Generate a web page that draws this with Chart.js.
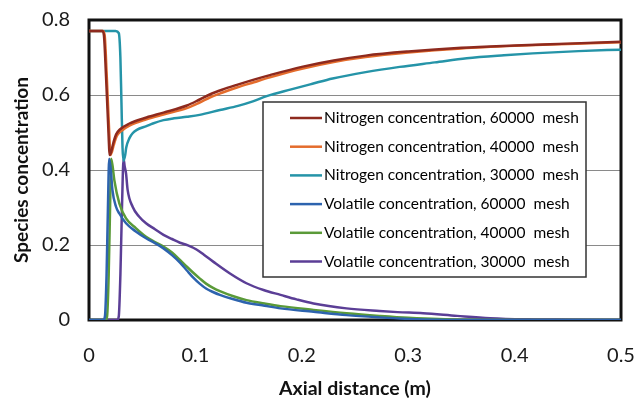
<!DOCTYPE html>
<html>
<head>
<meta charset="utf-8">
<script src="https://cdn.jsdelivr.net/npm/chart.js@4.4.1/dist/chart.umd.min.js"></script>
<style>
  body { margin: 0; background: #fff; }
</style>
</head>
<body>
<canvas id="grafico" width="635" height="405"></canvas>
<script>
// Ejes
const xTicks = [0, 0.1, 0.2, 0.3, 0.4, 0.5];
const yTicks = [0, 0.2, 0.4, 0.6, 0.8];

// Nitrogen concentration, 60000 mesh
const n60X = [0, 0.0125, 0.0140, 0.0160, 0.0180, 0.0195, 0.0210, 0.0225, 0.0255, 0.0290, 0.038, 0.054, 0.070, 0.092, 0.104, 0.114, 0.125, 0.139, 0.155, 0.170, 0.200, 0.230, 0.260, 0.300, 0.350, 0.400, 0.450, 0.500];
const n60Y = [0.771, 0.771, 0.760, 0.650, 0.520, 0.440, 0.450, 0.468, 0.495, 0.508, 0.524, 0.540, 0.553, 0.572, 0.588, 0.602, 0.614, 0.627, 0.641, 0.653, 0.675, 0.692, 0.705, 0.716, 0.726, 0.732, 0.737, 0.742];

// Nitrogen concentration, 40000 mesh
const n40X = [0, 0.0130, 0.0147, 0.0167, 0.0187, 0.0202, 0.0217, 0.0232, 0.026, 0.030, 0.038, 0.054, 0.070, 0.092, 0.104, 0.114, 0.125, 0.139, 0.155, 0.170, 0.200, 0.230, 0.260, 0.300, 0.350, 0.400, 0.450, 0.500];
const n40Y = [0.771, 0.771, 0.760, 0.650, 0.520, 0.440, 0.450, 0.466, 0.490, 0.503, 0.518, 0.535, 0.548, 0.565, 0.580, 0.594, 0.606, 0.620, 0.634, 0.647, 0.670, 0.688, 0.701, 0.713, 0.724, 0.731, 0.736, 0.741];

// Nitrogen concentration, 30000 mesh
const n30X = [0, 0.0250, 0.0280, 0.0295, 0.0305, 0.0315, 0.0325, 0.0340, 0.0350, 0.038, 0.041, 0.045, 0.054, 0.060, 0.070, 0.080, 0.092, 0.104, 0.123, 0.140, 0.154, 0.167, 0.190, 0.210, 0.229, 0.260, 0.292, 0.325, 0.355, 0.390, 0.417, 0.460, 0.500];
const n30Y = [0.771, 0.771, 0.765, 0.700, 0.580, 0.460, 0.425, 0.440, 0.460, 0.485, 0.498, 0.507, 0.517, 0.524, 0.533, 0.538, 0.542, 0.547, 0.560, 0.571, 0.583, 0.597, 0.615, 0.630, 0.644, 0.661, 0.675, 0.687, 0.698, 0.706, 0.711, 0.717, 0.721];

// Volatile concentration, 60000 mesh
const v60X = [0, 0.0135, 0.0150, 0.0165, 0.0178, 0.0190, 0.0205, 0.022, 0.0254, 0.0285, 0.0348, 0.044, 0.0536, 0.062, 0.070, 0.078, 0.0855, 0.092, 0.098, 0.104, 0.110, 0.117, 0.123, 0.135, 0.148, 0.165, 0.180, 0.211, 0.242, 0.273, 0.300, 0.350, 0.400, 0.500];
const v60Y = [0, 0, 0.010, 0.120, 0.300, 0.430, 0.400, 0.347, 0.302, 0.284, 0.258, 0.236, 0.218, 0.205, 0.191, 0.173, 0.153, 0.132, 0.113, 0.097, 0.084, 0.074, 0.067, 0.056, 0.046, 0.038, 0.031, 0.022, 0.013, 0.007, 0.003, 0, 0, 0];

// Volatile concentration, 40000 mesh
const v40X = [0, 0.0155, 0.0170, 0.0185, 0.0198, 0.0208, 0.0222, 0.0238, 0.0285, 0.0348, 0.044, 0.0536, 0.062, 0.070, 0.078, 0.0855, 0.092, 0.098, 0.104, 0.110, 0.117, 0.123, 0.135, 0.148, 0.165, 0.180, 0.211, 0.242, 0.273, 0.300, 0.350, 0.500];
const v40Y = [0, 0, 0.010, 0.120, 0.300, 0.430, 0.410, 0.373, 0.311, 0.271, 0.245, 0.222, 0.208, 0.196, 0.180, 0.160, 0.142, 0.126, 0.111, 0.097, 0.085, 0.077, 0.064, 0.053, 0.044, 0.037, 0.027, 0.018, 0.011, 0.006, 0.001, 0];

// Volatile concentration, 30000 mesh
const v30X = [0, 0.0265, 0.0280, 0.0295, 0.0310, 0.0325, 0.0335, 0.0348, 0.0363, 0.041, 0.047, 0.0536, 0.062, 0.070, 0.078, 0.0855, 0.093, 0.101, 0.108, 0.117, 0.1325, 0.148, 0.164, 0.180, 0.195, 0.211, 0.242, 0.273, 0.290, 0.314, 0.346, 0.377, 0.410, 0.450, 0.500];
const v30Y = [0, 0, 0.010, 0.120, 0.300, 0.430, 0.410, 0.391, 0.347, 0.302, 0.276, 0.258, 0.242, 0.227, 0.216, 0.206, 0.199, 0.188, 0.174, 0.155, 0.124, 0.098, 0.080, 0.067, 0.055, 0.044, 0.031, 0.024, 0.021, 0.018, 0.011, 0.005, 0.002, 0.001, 0];

const series = [
    { label: 'Nitrogen concentration, 60000  mesh', xs: n60X, ys: n60Y, color: '#8E2A1E' },
    { label: 'Nitrogen concentration, 40000  mesh', xs: n40X, ys: n40Y, color: '#E46C2C' },
    { label: 'Nitrogen concentration, 30000  mesh', xs: n30X, ys: n30Y, color: '#2594A8' },
    { label: 'Volatile concentration, 60000  mesh', xs: v60X, ys: v60Y, color: '#2D63AE' },
    { label: 'Volatile concentration, 40000  mesh', xs: v40X, ys: v40Y, color: '#5A9A38' },
    { label: 'Volatile concentration, 30000  mesh', xs: v30X, ys: v30Y, color: '#5B3E96' }
];

const datasets = series.map(s => ({
    label: s.label,
    data: s.xs.map((x, i) => ({ x: x, y: s.ys[i] })),
    borderColor: s.color,
    backgroundColor: s.color,
    borderWidth: 2.5,
    pointRadius: 0,
    cubicInterpolationMode: 'monotone',
    fill: false
}));

// Marco grueso del area de trazado
const marco = {
    id: 'marco',
    beforeDatasetsDraw(chart) {
        const { ctx, chartArea: a } = chart;
        ctx.save();
        ctx.strokeStyle = '#111';
        ctx.lineWidth = 3;
        ctx.strokeRect(a.left, a.top, a.right - a.left, a.bottom - a.top);
        ctx.restore();
    }
};

// Leyenda en recuadro dentro del grafico
const leyenda = {
    id: 'leyenda',
    afterDatasetsDraw(chart) {
        const ctx = chart.ctx;
        const box = { x: 263, y: 102, w: 323, h: 175 };
        ctx.save();
        ctx.fillStyle = '#fff';
        ctx.fillRect(box.x, box.y, box.w, box.h);
        ctx.strokeStyle = '#333';
        ctx.lineWidth = 1.5;
        ctx.strokeRect(box.x, box.y, box.w, box.h);
        ctx.font = '15.5px Lato';
        ctx.textBaseline = 'middle';
        chart.data.datasets.forEach((ds, i) => {
            const y = 118 + i * 28.7;
            ctx.strokeStyle = ds.borderColor;
            ctx.lineWidth = 2.5;
            ctx.beginPath();
            ctx.moveTo(290, y);
            ctx.lineTo(322, y);
            ctx.stroke();
            ctx.fillStyle = '#000';
            ctx.fillText(ds.label, 324, y);
        });
        ctx.restore();
    }
};

new Chart(document.getElementById('grafico'), {
    type: 'line',
    data: { datasets: datasets },
    options: {
        responsive: false,
        animation: false,
        devicePixelRatio: 1,
        layout: { padding: { top: 20, right: 14, left: 0, bottom: 0 } },
        plugins: {
            legend: { display: false },
            tooltip: { enabled: false }
        },
        scales: {
            x: {
                type: 'linear',
                min: 0,
                max: 0.5,
                afterBuildTicks: scale => { scale.ticks = xTicks.map(v => ({ value: v })); },
                afterFit: scale => {
                    scale.height = 85;
                    scale.paddingLeft = 0;
                    scale.paddingRight = 0;
                },
                grid: { display: false, drawTicks: false },
                border: { display: false },
                ticks: { padding: 24, color: '#1a1a1a', font: { family: 'Lato', size: 20 } },
                title: {
                    display: true,
                    text: 'Axial distance (m)',
                    color: '#111',
                    font: { family: 'Lato', size: 19.5, weight: 'bold' },
                    padding: { top: 0, bottom: 5 }
                }
            },
            y: {
                min: 0,
                max: 0.8,
                afterBuildTicks: scale => { scale.ticks = yTicks.map(v => ({ value: v })); },
                afterFit: scale => {
                    scale.width = 89;
                    scale.paddingTop = 0;
                    scale.paddingBottom = 0;
                },
                grid: {
                    drawTicks: false,
                    color: c => (c.tick && c.tick.value > 0 && c.tick.value < 0.8) ? '#8a8a8a' : 'rgba(0,0,0,0)',
                    lineWidth: 1
                },
                border: { display: false },
                ticks: { padding: 19, color: '#1a1a1a', font: { family: 'Lato', size: 20 } },
                title: {
                    display: true,
                    text: 'Species concentration',
                    color: '#111',
                    font: { family: 'Lato', size: 19, weight: 'bold' },
                    padding: { top: 10, bottom: 0 }
                }
            }
        }
    },
    plugins: [marco, leyenda]
});
</script>
</body>
</html>
